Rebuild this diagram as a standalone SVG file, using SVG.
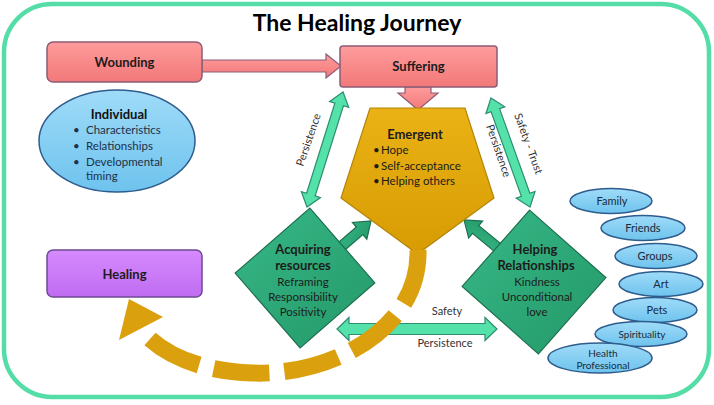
<svg xmlns="http://www.w3.org/2000/svg" width="714" height="405" viewBox="0 0 714 405">
<defs>
<linearGradient id="gRed" x1="0" y1="0" x2="0" y2="1"><stop offset="0" stop-color="#FF9C9C"/><stop offset="1" stop-color="#F27878"/></linearGradient>
<linearGradient id="gPurple" x1="0" y1="0" x2="0" y2="1"><stop offset="0" stop-color="#D58AFD"/><stop offset="1" stop-color="#C06CF2"/></linearGradient>
<linearGradient id="gBlue" x1="0" y1="0" x2="0" y2="1"><stop offset="0" stop-color="#9FDBF8"/><stop offset="1" stop-color="#6EC3EE"/></linearGradient>
<linearGradient id="gGreen" x1="0" y1="0" x2="1" y2="1"><stop offset="0" stop-color="#38B887"/><stop offset="1" stop-color="#239868"/></linearGradient>
<linearGradient id="gGold" x1="0" y1="0" x2="0" y2="1"><stop offset="0" stop-color="#EBB216"/><stop offset="1" stop-color="#D69C02"/></linearGradient>
<style>
text{font-family:Lato,"Open Sans","Liberation Sans",sans-serif;fill:#1c1c1c}
.title{font-size:23px;font-weight:bold;fill:#000}
.box{stroke-width:1.5}
.red{fill:url(#gRed);stroke:#8C5C78}
.bl{font-size:13px;font-weight:bold;text-anchor:middle}
.t11{font-size:11.5px}
.mid{text-anchor:middle}
.mint{fill:#55E2AA;stroke:#2E8C70;stroke-width:1.2}
.dg{fill:url(#gGreen);stroke:#1C6E4F;stroke-width:1.2}
.ell{fill:url(#gBlue);stroke:#2E5C8C;stroke-width:1.5}
.el{font-size:11px;text-anchor:middle;fill:#1a2a3a}
.lab{font-size:11px;fill:#333;text-anchor:middle}
</style>
</defs>
<rect x="4" y="4" width="705" height="393" rx="48" fill="#fff" stroke="#55DDA8" stroke-width="4.5"/>
<text class="title" x="357" y="31" text-anchor="middle">The Healing Journey</text>

<g id="connectors">
<polygon class="red" points="202,60 326,60 326,54 341,66 326,78 326,72 202,72" stroke-width="1.2"/>
<polygon class="red" points="405,87 431,87 431,93 438,93 418,110 398,93 405,93" stroke-width="1.2"/>
<polygon class="mint" transform="translate(307,207) rotate(-72.6)" points="0,0 13,-10 13,-4.5 107.5,-4.5 107.5,-10 120.5,0 107.5,10 107.5,4.5 13,4.5 13,10"/>
<polygon class="mint" transform="translate(530,207) rotate(-109.7)" points="0,0 13,-10 13,-4.5 102.8,-4.5 102.8,-10 115.8,0 102.8,10 102.8,4.5 13,4.5 13,10"/>
<polygon class="mint" points="337,329 349,317.5 349,323.5 485,323.5 485,317.5 497,329 485,340.5 485,334.5 349,334.5 349,340.5"/>
<polygon class="dg" transform="translate(335,252) rotate(-40.7)" points="0,-5 32.5,-5 32.5,-11 47.5,0 32.5,11 32.5,5 0,5"/>
<polygon class="dg" transform="translate(503,252) rotate(-140.6)" points="0,-5 35.4,-5 35.4,-11 50.4,0 35.4,11 35.4,5 0,5"/>
<text class="lab" transform="translate(312,141) rotate(-71)">Persistence</text>
<text class="lab" transform="translate(525,145) rotate(70)">Safety - Trust</text>
<text class="lab" transform="translate(495,152) rotate(71)">Persistence</text>
<text class="lab" x="447" y="315">Safety</text>
<text class="lab" x="445" y="347">Persistence</text>
</g>

<g id="wounding">
<rect class="box red" x="47" y="42" width="155" height="40" rx="6"/>
<text class="bl" x="124.5" y="66.5">Wounding</text>
</g>
<g id="suffering">
<rect class="box red" x="340" y="46" width="157" height="41" rx="3"/>
<text class="bl" x="418.5" y="71">Suffering</text>
</g>
<g id="individual">
<ellipse class="ell" cx="117" cy="141" rx="78" ry="51"/>
<text class="bl" x="119" y="118.5" style="fill:#111">Individual</text>
<text class="t11" style="fill:#1e3048"><tspan x="73" y="134">•</tspan><tspan x="86" y="134">Characteristics</tspan><tspan x="73" y="149.5">•</tspan><tspan x="86" y="149.5">Relationships</tspan><tspan x="73" y="165.5">•</tspan><tspan x="86" y="165.5">Developmental</tspan><tspan x="86" y="179.5">timing</tspan></text>
</g>
<g id="healing">
<rect class="box" x="47" y="250" width="155" height="47" rx="6" fill="url(#gPurple)" stroke="#6E4A92"/>
<text class="bl" x="124.5" y="279">Healing</text>
</g>

<g id="emergent">
<polygon points="370,108 465,108 494,198 417.5,254 341,198" fill="url(#gGold)" stroke="#B38406" stroke-width="1.2"/>
<text class="bl" x="415" y="138.5">Emergent</text>
<text class="t11"><tspan x="373" y="154">•</tspan><tspan x="381" y="154">Hope</tspan><tspan x="373" y="169.5">•</tspan><tspan x="381" y="169.5">Self-acceptance</tspan><tspan x="373" y="185">•</tspan><tspan x="381" y="185">Helping others</tspan></text>
</g>

<g id="acquiring">
<polygon class="dg" transform="translate(305,278) rotate(4)" points="0,-70 70,0 0,70 -70,0"/>
<text class="bl" x="303" y="253.5">Acquiring</text>
<text class="bl" x="303" y="269.5">resources</text>
<text class="t11 mid" x="303" y="286">Reframing</text>
<text class="t11 mid" x="303" y="301">Responsibility</text>
<text class="t11 mid" x="303" y="316">Positivity</text>
</g>
<g id="helping">
<polygon class="dg" transform="translate(534,282) rotate(-3.5)" points="0,-72 72,0 0,72 -72,0"/>
<text class="bl" x="535" y="254">Helping</text>
<text class="bl" x="536" y="269.5">Relationships</text>
<text class="t11 mid" x="537" y="286">Kindness</text>
<text class="t11 mid" x="537" y="301">Unconditional</text>
<text class="t11 mid" x="537" y="316">love</text>
</g>

<g id="journey-arc">
<path d="M418,250 C420,330 330,376 252,373 C198,371 162,354 141,330" fill="none" stroke="#DBA00E" stroke-width="17" stroke-dasharray="56 15"/>
<polygon points="119,340 129,299 163,317" fill="#DBA00E"/>
</g>

<g id="resources">
<g id="family"><ellipse class="ell" cx="611" cy="201" rx="41" ry="12.5"/><text class="el" x="612" y="205">Family</text></g>
<g id="friends"><ellipse class="ell" cx="643" cy="228" rx="42" ry="12.5"/><text class="el" x="643" y="232">Friends</text></g>
<g id="groups"><ellipse class="ell" cx="656" cy="256" rx="41" ry="12.5"/><text class="el" x="655" y="260">Groups</text></g>
<g id="art"><ellipse class="ell" cx="661" cy="284" rx="42" ry="12.5"/><text class="el" x="661" y="288">Art</text></g>
<g id="pets"><ellipse class="ell" cx="655" cy="310" rx="42" ry="12.5"/><text class="el" x="657" y="314">Pets</text></g>
<g id="spirituality"><ellipse class="ell" cx="641" cy="334" rx="46" ry="12.5"/><text class="el" x="642" y="338" style="font-size:10px">Spirituality</text></g>
<g id="health"><ellipse class="ell" cx="600" cy="358" rx="52" ry="15"/><text class="el" x="603" y="357" style="font-size:10px">Health</text><text class="el" x="603" y="368.5" style="font-size:10px">Professional</text></g>
</g>
</svg>
